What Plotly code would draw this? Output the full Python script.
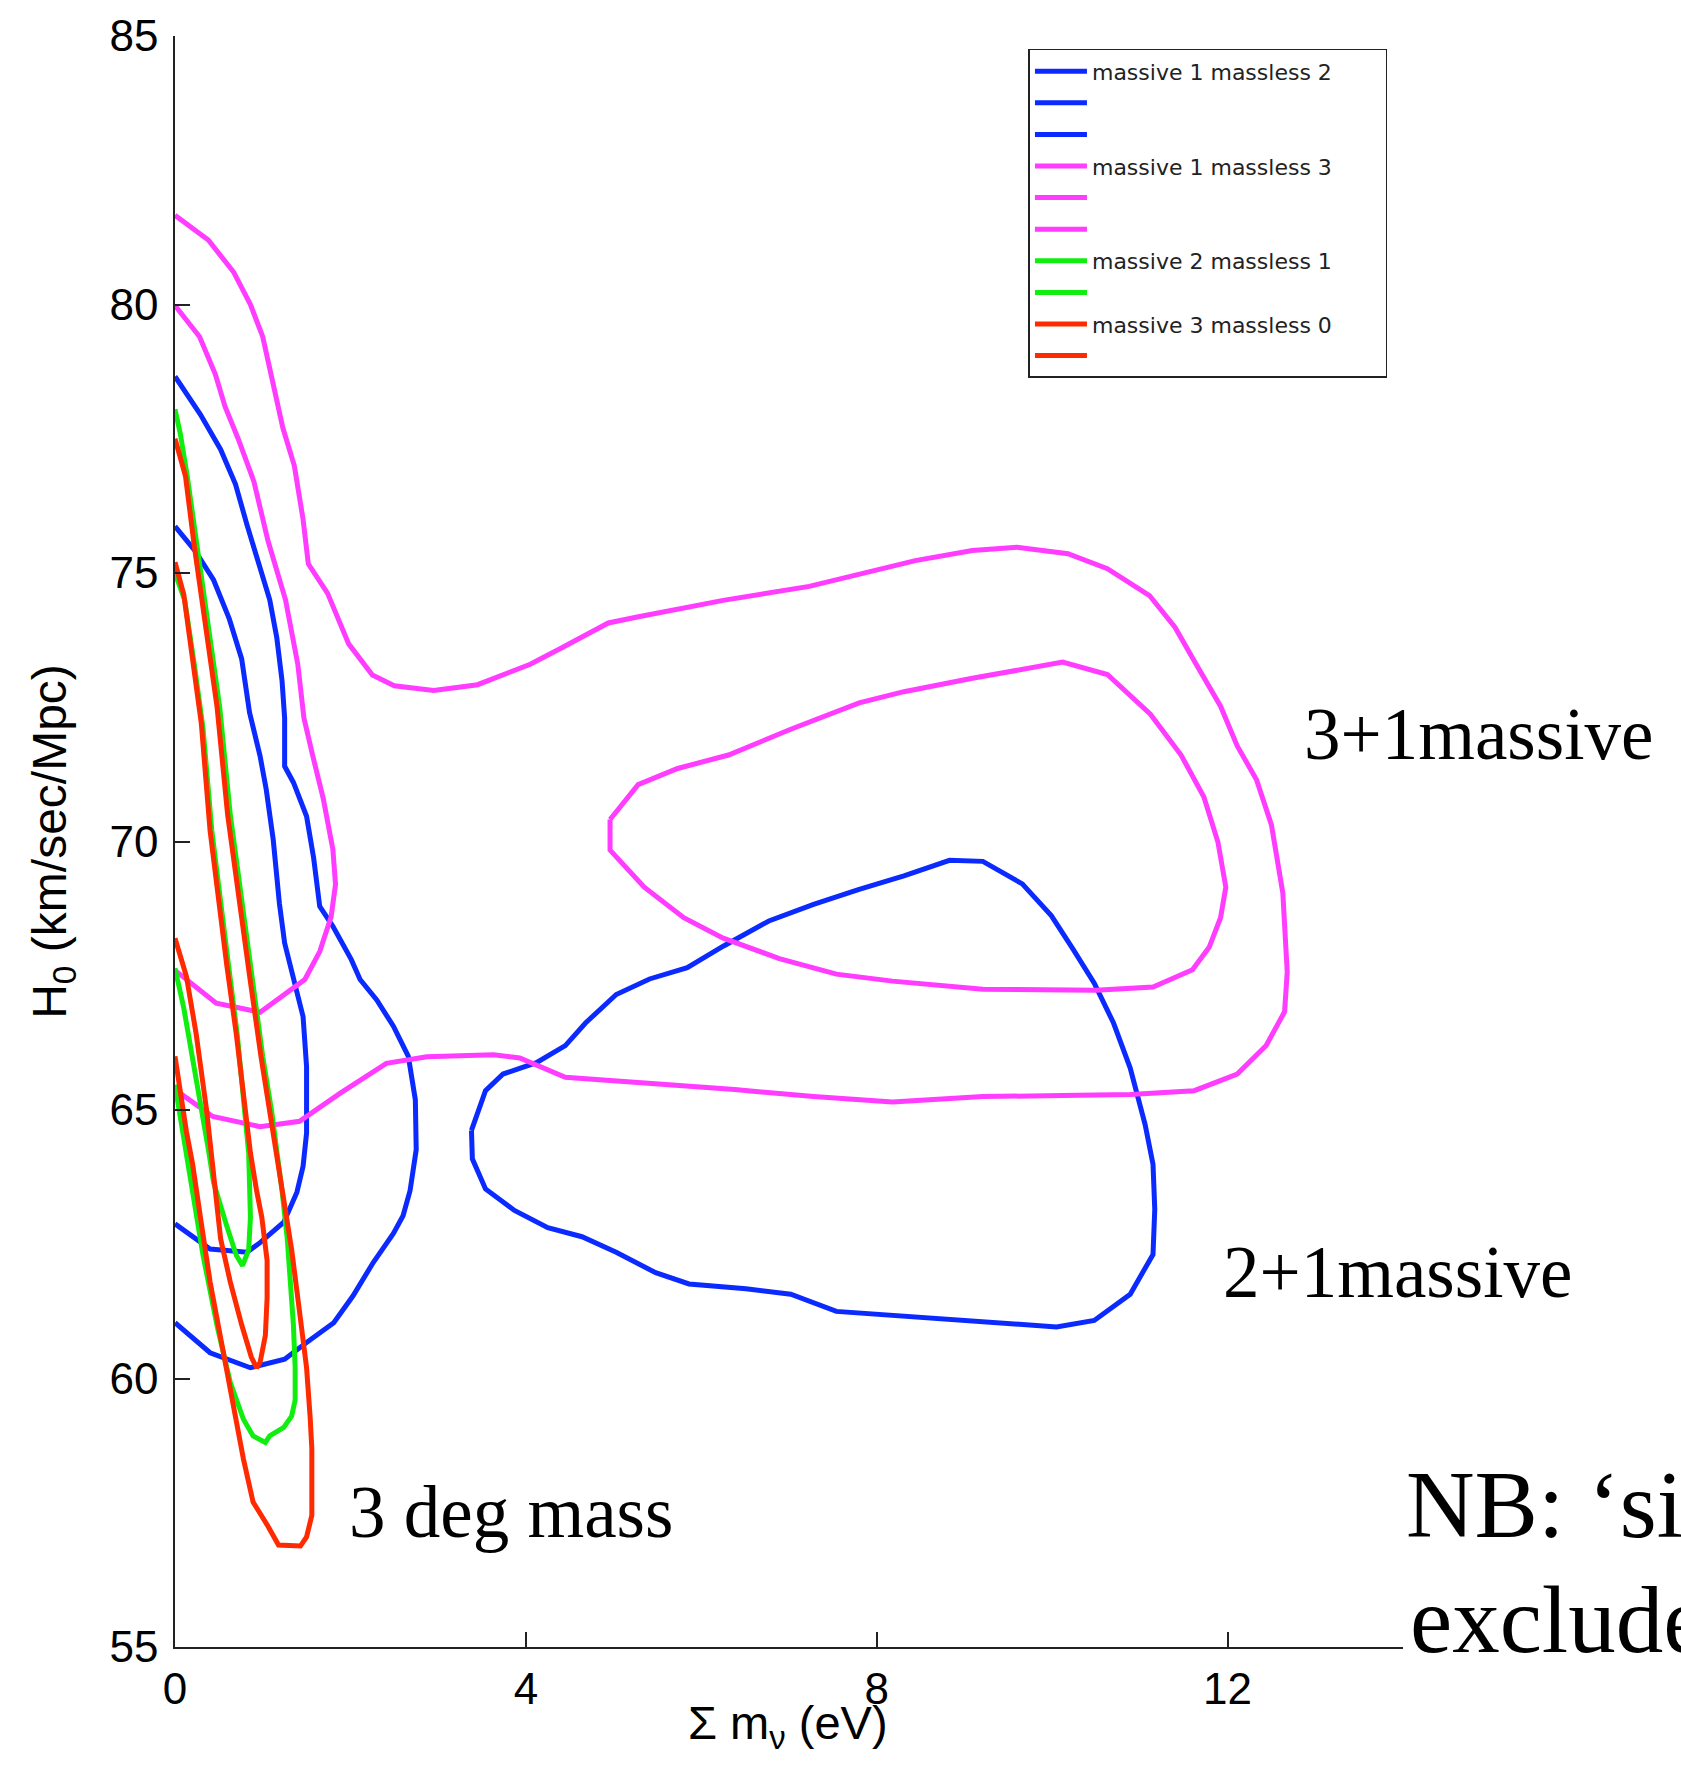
import plotly.graph_objects as go

# ---------------- data ----------------
# 2+1 massive  (massive 1, massless 2) : blue
blue_outer_x = [0, 0.29, 0.52, 0.69, 0.82, 0.95, 1.08, 1.16, 1.22, 1.25, 1.25, 1.35, 1.50, 1.58, 1.65, 1.80, 2.01, 2.11, 2.30, 2.49, 2.66, 2.74, 2.75, 2.68, 2.60, 2.49, 2.26, 2.03, 1.81, 1.50, 1.25, 0.86, 0.40, 0]
blue_outer_y = [78.66, 77.95, 77.3, 76.65, 75.9, 75.2, 74.5, 73.8, 73.0, 72.3, 71.4, 71.1, 70.47, 69.7, 68.79, 68.42, 67.8, 67.43, 67.05, 66.56, 66.0, 65.19, 64.26, 63.5, 63.03, 62.7, 62.16, 61.54, 61.04, 60.67, 60.36, 60.2, 60.48, 61.04]

blue_inner_x = [0, 0.23, 0.44, 0.62, 0.76, 0.85, 0.97, 1.04, 1.12, 1.19, 1.25, 1.36, 1.46, 1.50, 1.50, 1.46, 1.39, 1.24, 0.97, 0.82, 0.40, 0]
blue_inner_y = [75.87, 75.41, 74.87, 74.14, 73.4, 72.4, 71.59, 70.97, 70.03, 68.85, 68.11, 67.43, 66.74, 65.81, 64.57, 63.95, 63.47, 62.91, 62.53, 62.35, 62.41, 62.88]

blue_island_x = [3.38, 3.54, 3.74, 4.12, 4.45, 4.68, 5.03, 5.41, 5.84, 6.25, 6.77, 7.28, 7.80, 8.31, 8.83, 9.21, 9.66, 9.99, 10.24, 10.48, 10.70, 10.89, 11.06, 11.15, 11.17, 11.15, 10.89, 10.48, 10.05, 9.34, 8.31, 7.54, 7.02, 6.51, 5.86, 5.48, 5.03, 4.64, 4.25, 3.87, 3.54, 3.39, 3.38]
blue_island_y = [64.62, 65.36, 65.67, 65.88, 66.2, 66.62, 67.15, 67.44, 67.65, 68.05, 68.52, 68.83, 69.11, 69.36, 69.65, 69.63, 69.21, 68.62, 67.99, 67.36, 66.62, 65.78, 64.73, 63.99, 63.15, 62.31, 61.57, 61.08, 60.96, 61.04, 61.17, 61.25, 61.57, 61.67, 61.76, 61.97, 62.35, 62.64, 62.81, 63.13, 63.53, 64.09, 64.62]

# 3+1 massive (massive 1, massless 3) : magenta
mag_outer_x = [0, 0.38, 0.67, 0.86, 1.00, 1.10, 1.23, 1.36, 1.46, 1.52, 1.74, 1.98, 2.25, 2.50, 2.95, 3.45, 4.05, 4.40, 4.94, 5.27, 6.25, 7.23, 7.80, 8.44, 9.09, 9.60, 10.18, 10.63, 11.11, 11.40, 11.66, 11.92, 12.11, 12.33, 12.50, 12.63, 12.68, 12.65, 12.44, 12.11, 11.62, 10.89, 10.12, 9.21, 8.18, 7.28, 6.38, 5.73, 5.22, 4.45, 3.93, 3.63, 2.87, 2.41, 1.88, 1.42, 0.97, 0.43, 0]
mag_outer_y = [81.66, 81.2, 80.6, 80.0, 79.4, 78.66, 77.7, 77.0, 76.0, 75.17, 74.62, 73.68, 73.1, 72.9, 72.81, 72.92, 73.3, 73.6, 74.07, 74.18, 74.49, 74.75, 74.98, 75.23, 75.42, 75.48, 75.36, 75.08, 74.58, 73.99, 73.25, 72.52, 71.78, 71.15, 70.31, 69.04, 67.57, 66.83, 66.2, 65.67, 65.36, 65.29, 65.27, 65.25, 65.15, 65.25, 65.38, 65.46, 65.51, 65.61, 65.97, 66.03, 65.99, 65.87, 65.31, 64.79, 64.69, 64.88, 65.38]

mag_inner_left_x = [0, 0.28, 0.46, 0.57, 0.72, 0.90, 1.06, 1.26, 1.40, 1.47, 1.57, 1.69, 1.80, 1.83, 1.78, 1.65, 1.48, 0.97, 0.47, 0.05, 0]
mag_inner_left_y = [79.98, 79.4, 78.7, 78.1, 77.5, 76.7, 75.6, 74.5, 73.3, 72.3, 71.6, 70.8, 69.85, 69.2, 68.6, 67.95, 67.43, 66.82, 66.99, 67.55, 67.6]

mag_inner_right_x = [4.96, 5.28, 5.73, 6.31, 7.02, 7.80, 8.31, 9.09, 10.12, 10.63, 11.12, 11.47, 11.73, 11.89, 11.98, 11.92, 11.79, 11.60, 11.15, 10.50, 9.21, 8.18, 7.54, 6.89, 6.25, 5.80, 5.35, 4.96, 4.96]
mag_inner_right_y = [70.41, 71.06, 71.36, 71.61, 72.09, 72.58, 72.79, 73.04, 73.34, 73.11, 72.37, 71.61, 70.83, 69.99, 69.15, 68.58, 68.03, 67.61, 67.29, 67.23, 67.25, 67.4, 67.53, 67.82, 68.2, 68.58, 69.15, 69.84, 70.41]

# massive 2 massless 1 : green
green_outer_x = [0, 0.06, 0.14, 0.25, 0.38, 0.51, 0.63, 0.75, 0.88, 1.00, 1.10, 1.17, 1.22, 1.28, 1.32, 1.35, 1.37, 1.37, 1.33, 1.24, 1.08, 1.03, 0.89, 0.78, 0.63, 0.48, 0.32, 0.19, 0.12, 0.06, 0]
green_outer_y = [78.05, 77.6, 76.8, 75.5, 74.0, 72.5, 70.5, 69.0, 67.5, 66.0, 65.0, 64.2, 63.5, 62.6, 61.8, 61.0, 60.2, 59.6, 59.3, 59.09, 58.93, 58.81, 58.93, 59.24, 59.93, 60.98, 62.29, 63.6, 64.4, 65.0, 65.47]

green_inner_x = [0, 0.11, 0.22, 0.32, 0.42, 0.52, 0.61, 0.71, 0.78, 0.84, 0.86, 0.84, 0.77, 0.70, 0.59, 0.44, 0.38, 0.30, 0.20, 0.10, 0]
green_inner_y = [75.0, 74.5, 73.3, 72.1, 70.2, 68.8, 67.7, 66.4, 65.2, 64.2, 63.0, 62.4, 62.1, 62.29, 62.84, 63.65, 64.27, 65.0, 66.0, 66.9, 67.64]

# massive 3 massless 0 (3 deg mass) : red
red_outer_x = [0, 0.12, 0.22, 0.35, 0.48, 0.60, 0.72, 0.85, 0.98, 1.10, 1.18, 1.25, 1.33, 1.40, 1.46, 1.50, 1.54, 1.56, 1.56, 1.54, 1.50, 1.43, 1.30, 1.18, 1.06, 0.97, 0.89, 0.78, 0.65, 0.51, 0.40, 0.29, 0.20, 0.13, 0.06, 0]
red_outer_y = [77.5, 76.8, 75.5, 74.0, 72.5, 70.5, 69.0, 67.5, 66.0, 64.8, 64.0, 63.2, 62.4, 61.5, 60.7, 60.2, 59.3, 58.7, 57.45, 57.3, 57.05, 56.88, 56.88, 56.9, 57.25, 57.5, 57.7, 58.5, 59.6, 60.8, 61.8, 63.0, 64.0, 64.6, 65.3, 66.0]

red_inner_x = [0, 0.10, 0.20, 0.30, 0.40, 0.50, 0.59, 0.70, 0.78, 0.86, 0.93, 0.99, 1.05, 1.05, 1.03, 0.97, 0.93, 0.87, 0.76, 0.63, 0.52, 0.47, 0.42, 0.36, 0.24, 0.13, 0]
red_inner_y = [75.2, 74.6, 73.4, 72.2, 70.2, 68.8, 67.7, 66.4, 65.2, 64.2, 63.5, 63.0, 62.2, 61.5, 60.8, 60.3, 60.2, 60.4, 61.0, 61.8, 62.6, 63.3, 64.0, 65.0, 66.43, 67.49, 68.2]

x_ticks = [0, 4, 8, 12]
y_ticks = [55, 60, 65, 70, 75, 80, 85]

legend_names = ["massive 1 massless 2", "", "",
                "massive 1 massless 3", "", "",
                "massive 2 massless 1", "",
                "massive 3 massless 0", ""]

BLUE = "#0a2aff"
MAGENTA = "#ff3cff"
GREEN = "#10ee10"
RED = "#ff2a00"

curves = [
    (blue_outer_x, blue_outer_y, BLUE),
    (blue_inner_x, blue_inner_y, BLUE),
    (blue_island_x, blue_island_y, BLUE),
    (mag_outer_x, mag_outer_y, MAGENTA),
    (mag_inner_left_x, mag_inner_left_y, MAGENTA),
    (mag_inner_right_x, mag_inner_right_y, MAGENTA),
    (green_outer_x, green_outer_y, GREEN),
    (green_inner_x, green_inner_y, GREEN),
    (red_outer_x, red_outer_y, RED),
    (red_inner_x, red_inner_y, RED),
]

fig = go.Figure()
for (xs, ys, col), name in zip(curves, legend_names):
    # pad the labelled entries a little so the legend box is as wide as the original
    label = (name + "\u00a0" * 7) if name else ""
    fig.add_trace(go.Scatter(x=xs, y=ys, mode="lines", name=label,
                             line=dict(color=col, width=5), showlegend=True,
                             cliponaxis=False))

SANS = "Liberation Sans, Arial, sans-serif"
AX = dict(showgrid=False, zeroline=False, showline=True, linecolor="#222222",
          linewidth=1.5, ticks="inside", ticklen=15, tickwidth=1.5,
          tickcolor="#222222", mirror=False,
          tickfont=dict(family=SANS, size=44, color="black"))

fig.update_layout(
    width=1681, height=1772,
    paper_bgcolor="white", plot_bgcolor="white",
    margin=dict(l=175, r=278, t=36, b=125, autoexpand=False),
    xaxis=dict(range=[0, 14], tickvals=x_ticks, ticklabelstandoff=2, **AX),
    yaxis=dict(range=[55, 85], tickvals=y_ticks, ticklabelstandoff=6,
               title=dict(text="H<sub>0</sub> (km/sec/Mpc)", standoff=28,
                          font=dict(family=SANS, size=48, color="black")),
               **AX),
    legend=dict(x=0.695, y=0.992, xanchor="left", yanchor="top",
                bgcolor="white", bordercolor="#222222", borderwidth=1.5,
                font=dict(family="DejaVu Sans, sans-serif", size=22, color="#222222"),
                itemwidth=52, tracegroupgap=0),
    showlegend=True,
)

# x-axis title: sits tight under the tick labels (touching the "8"), as in the original
fig.add_annotation(x=0.499, y=-0.049, xref="paper", yref="paper",
                   text="Σ m<sub>ν</sub> (eV)", showarrow=False,
                   xanchor="center", yanchor="middle",
                   font=dict(family=SANS, size=47, color="black"))

SERIF = "Liberation Serif, Times New Roman, serif"
labels = [
    ("3+1massive", 12.85, 71.99),
    ("2+1massive", 11.92, 61.97),
    ("3 deg mass", 1.96, 57.5),
]
for t, ax_, ay_ in labels:
    fig.add_annotation(x=ax_, y=ay_, xref="x", yref="y", text=t, showarrow=False,
                       xanchor="left", yanchor="middle",
                       font=dict(family=SERIF, size=73, color="black"))

# texts cut by the right edge of the picture (placed in paper coordinates)
notes = [("NB: \u2018si", 1.0005, 0.088), ("exclude", 1.004, 0.0168)]
for t, px, py in notes:
    fig.add_annotation(x=px, y=py, xref="paper", yref="paper", text=t, showarrow=False,
                       xanchor="left", yanchor="middle",
                       font=dict(family=SERIF, size=95, color="black"))

fig.write_html("out.html")
